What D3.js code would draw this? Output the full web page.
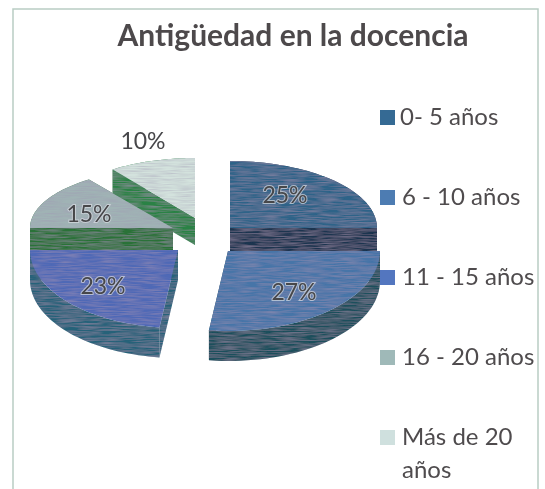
<!DOCTYPE html>
<html>
<head>
<meta charset="utf-8">
<script src="https://cdn.jsdelivr.net/npm/d3@7"></script>
<style>
  html, body { margin: 0; background: #fff; }
  text { font-family: Lato, "Open Sans", sans-serif; }
</style>
</head>
<body>
<div id="chart"></div>
<script>
var categories = ["0- 5 años", "6 - 10 años", "11 - 15 años", "16 - 20 años", "Más de 20 años"];
var values = [25, 27, 23, 15, 10];

var width = 545, height = 489;

// Colours per slice: top face and side wall
var topColors = ["#2f6488", "#4674a8", "#5069b6", "#a0b3b5", "#d3e2dd"];
var wallColors = ["#1b3550", "#1a4f5c", "#266279", "#2b7238", "#2b8245"];
var legendColors = ["#356a94", "#4d7cb2", "#5276bf", "#9fb9b8", "#cfe0de"];

// Each slice is pulled away from the centre by hand, like the exploded original
var apexX = [230, 228, 178, 173, 195];
var apexY = [228, 251, 250, 228, 218];
var radiusX = [147, 152, 148, 143, 140];
var radiusBack = [67, 62, 62, 60, 60];
var radiusFront = [78, 80, 78, 78, 78];
var depth = [24, 30, 30, 22, 27];
var labelX = [285, 294, 103, 89, 143];
var labelY = [195, 292, 286, 214, 141];

var svg = d3.select("#chart").append("svg")
  .attr("width", width)
  .attr("height", height)
  .style("display", "block");

// Scanned look: faint streaks over the pie, soft edges on everything
var defs = svg.append("defs");
var grain = defs.append("filter").attr("id", "grain")
  .attr("x", "-5%").attr("y", "-5%").attr("width", "110%").attr("height", "110%");
grain.append("feTurbulence")
  .attr("type", "fractalNoise")
  .attr("baseFrequency", "0.05 0.8")
  .attr("numOctaves", 2)
  .attr("seed", 4)
  .attr("result", "noise");
grain.append("feColorMatrix")
  .attr("in", "noise")
  .attr("type", "matrix")
  .attr("values", "0 0 0 0 0.35  0 0 0 0 0.3  0 0 0 0 0.45  0.9 0 0 0 -0.3")
  .attr("result", "streaks");
grain.append("feComposite")
  .attr("in", "streaks").attr("in2", "SourceAlpha").attr("operator", "in")
  .attr("result", "clipped");
grain.append("feMerge").selectAll("feMergeNode")
  .data(["SourceGraphic", "clipped"]).enter()
  .append("feMergeNode").attr("in", function(d) { return d; });
grain.append("feGaussianBlur").attr("stdDeviation", 0.6);

defs.append("filter").attr("id", "soft")
  .append("feGaussianBlur").attr("stdDeviation", 0.5);

// Frame, open at the bottom
svg.append("path")
  .attr("d", d3.line()([[13, height], [13, 9], [538, 9], [538, height]]))
  .attr("fill", "none")
  .attr("stroke", "#b9cdc4")
  .attr("stroke-width", 1.5)
  .attr("filter", "url(#soft)");

svg.append("text")
  .attr("x", 293)
  .attr("y", 46)
  .attr("text-anchor", "middle")
  .attr("font-size", 30)
  .attr("font-weight", 700)
  .attr("fill", "#4d4a4c")
  .attr("filter", "url(#soft)")
  .text("Antigüedad en la docencia");

var pie = d3.pie().sort(null).value(function(d) { return d; });
var arcs = pie(values);

// Angle (clockwise from north) to screen position for slice i
function project(i, a, drop) {
  var c = Math.cos(a);
  return [
    apexX[i] + radiusX[i] * Math.sin(a),
    apexY[i] - (c > 0 ? radiusBack[i] : radiusFront[i]) * c + (drop || 0)
  ];
}

function rimPoints(i, drop) {
  var n = 40;
  var step = d3.scaleLinear().domain([0, n]).range([arcs[i].startAngle, arcs[i].endAngle]);
  return d3.range(n + 1).map(function(k) { return project(i, step(k), drop); });
}

var line = d3.line();
var slices = svg.append("g").attr("filter", "url(#grain)");

// Back to front so the nearer slices cover the others
[4, 3, 0, 2, 1].forEach(function(i) {
  var g = slices.append("g");
  var apex = [apexX[i], apexY[i]];
  var apexLow = [apexX[i], apexY[i] + depth[i]];
  var rim = rimPoints(i);
  var rimLow = rimPoints(i, depth[i]);

  // flat cut walls on both radii
  [rim[0], rim[rim.length - 1]].forEach(function(p) {
    g.append("path")
      .attr("d", line([apex, p, [p[0], p[1] + depth[i]], apexLow]) + "Z")
      .attr("fill", wallColors[i]);
  });

  // curved outer wall
  g.append("path")
    .attr("d", line(rim.concat(rimLow.slice().reverse())) + "Z")
    .attr("fill", wallColors[i]);

  // top face
  g.append("path")
    .attr("d", line([apex].concat(rim)) + "Z")
    .attr("fill", topColors[i]);
});

// Value labels with the light halo of the original
svg.append("g").selectAll("text")
  .data(values).enter()
  .append("text")
  .attr("x", function(d, i) { return labelX[i]; })
  .attr("y", function(d, i) { return labelY[i]; })
  .attr("dy", "0.35em")
  .attr("text-anchor", "middle")
  .attr("font-size", 23)
  .attr("fill", "#46464a")
  .attr("stroke", function(d, i) { return i === 4 ? "none" : "#d8dde2"; })
  .attr("stroke-width", 2)
  .attr("stroke-opacity", 0.7)
  .attr("paint-order", "stroke")
  .attr("filter", "url(#soft)")
  .text(function(d) { return d + "%"; });

// Legend
var legendY = d3.scalePoint().domain(categories).range([118, 438]);
var legend = svg.append("g").attr("filter", "url(#soft)");

legend.selectAll("rect")
  .data(categories).enter()
  .append("rect")
  .attr("x", 380)
  .attr("y", function(d) { return legendY(d) - 8; })
  .attr("width", 15)
  .attr("height", 15)
  .attr("fill", function(d, i) { return legendColors[i]; });

legend.selectAll("text")
  .data(categories).enter()
  .append("text")
  .attr("x", function(d, i) { return i === 0 ? 400 : 402; })
  .attr("y", function(d) { return legendY(d) + 7; })
  .attr("font-size", 24)
  .attr("fill", "#4f4c4e")
  .each(function(d) {
    // the last entry wraps onto two lines
    var parts = d === "Más de 20 años" ? ["Más de 20", "años"] : [d];
    d3.select(this).selectAll("tspan")
      .data(parts).enter()
      .append("tspan")
      .attr("x", d3.select(this).attr("x"))
      .attr("dy", function(p, k) { return k ? 33 : 0; })
      .text(function(p) { return p; });
  });
</script>
</body>
</html>
